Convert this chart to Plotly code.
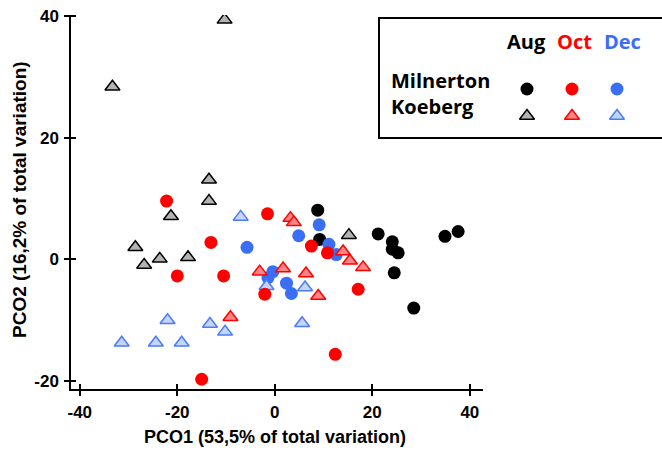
import plotly.graph_objects as go

# PCO scores per site and month
aug_milnerton_x = [8.8, 9.2, 21.2, 24.1, 24.1, 25.3, 24.5, 28.5, 34.9, 37.6]
aug_milnerton_y = [8.1, 3.3, 4.2, 2.9, 1.7, 1.1, -2.2, -8.0, 3.8, 4.6]

aug_koeberg_x = [-33.3, -10.3, -13.5, -13.5, -21.3, -28.6, -23.6, -26.8, -17.8, 15.2]
aug_koeberg_y = [28.4, 39.4, 13.1, 9.6, 7.1, 2.0, 0.1, -0.9, 0.35, 4.0]

oct_milnerton_x = [-22.2, -1.5, -13.1, -20.0, -10.5, -2.05, -15.0, 7.5, 10.8, 17.1, 12.4]
oct_milnerton_y = [9.6, 7.5, 2.8, -2.7, -2.7, -5.7, -19.7, 2.2, 1.1, -4.9, -15.6]

oct_koeberg_x = [-3.1, -9.1, 3.2, 3.9, 1.7, 6.4, 8.9, 14.0, 15.4, 18.1]
oct_koeberg_y = [-2.0, -9.5, 6.8, 6.1, -1.5, -2.3, -6.0, 1.3, -0.2, -1.3]

dec_milnerton_x = [-5.7, -0.4, -1.4, 2.4, 3.4, 4.9, 9.1, 11.1, 12.6]
dec_milnerton_y = [2.0, -2.0, -3.0, -3.9, -5.6, 3.9, 5.7, 2.5, 0.8]

dec_koeberg_x = [-7.0, -1.7, -22.0, -13.3, -10.2, -31.4, -24.4, -19.1, 6.2, 5.6]
dec_koeberg_y = [7.0, -4.4, -10.0, -10.6, -11.9, -13.7, -13.7, -13.7, -4.6, -10.5]

x_ticks = [-40, -20, 0, 20, 40]
x_tick_labels = ["-40", "-20", "0", "20", "40"]
y_ticks = [-20, 0, 20, 40]
y_tick_labels = ["-20", "0", "20", "40"]

months = ["Aug", "Oct", "Dec"]
sites = ["Milnerton", "Koeberg"]

x_title = "PCO1 (53,5% of total variation)"
y_title = "PCO2 (16,2% of total variation)"

BLACK = "#000000"
GREY = "#b3b3b3"
RED = "#ff0000"
RED_LIGHT = "#ff8585"
BLUE = "#3a6ef5"
BLUE_LIGHT = "#c6d4fa"
BLUE_EDGE = "#4a7cf7"

circle_style = {
    "Aug": dict(symbol="circle", size=13, color=BLACK, line=dict(width=0)),
    "Oct": dict(symbol="circle", size=13, color=RED, line=dict(width=0)),
    "Dec": dict(symbol="circle", size=13, color=BLUE, line=dict(width=0)),
}
triangle_style = {
    "Aug": dict(symbol="triangle-up", size=13, color=GREY, line=dict(width=1.5, color=BLACK)),
    "Oct": dict(symbol="triangle-up", size=13, color=RED_LIGHT, line=dict(width=1.5, color=RED)),
    "Dec": dict(symbol="triangle-up", size=13, color=BLUE_LIGHT, line=dict(width=1.5, color=BLUE_EDGE)),
}
month_colors = {"Aug": BLACK, "Oct": RED, "Dec": BLUE}

fig = go.Figure()

# drawing order keeps red marks on top of the blue and black ones
series = [
    (aug_milnerton_x, aug_milnerton_y, circle_style["Aug"]),
    (aug_koeberg_x, aug_koeberg_y, triangle_style["Aug"]),
    (dec_milnerton_x, dec_milnerton_y, circle_style["Dec"]),
    (dec_koeberg_x, dec_koeberg_y, triangle_style["Dec"]),
    (oct_milnerton_x, oct_milnerton_y, circle_style["Oct"]),
    (oct_koeberg_x, oct_koeberg_y, triangle_style["Oct"]),
]
for xs, ys, mk in series:
    fig.add_trace(go.Scatter(x=xs, y=ys, mode="markers", marker=mk,
                             showlegend=False, hoverinfo="skip",
                             xaxis="x", yaxis="y"))

# legend key grid: columns = months, rows = sites
for ci, m in enumerate(months):
    for ri, s in enumerate(sites):
        mk = circle_style[m] if s == "Milnerton" else triangle_style[m]
        fig.add_trace(go.Scatter(x=[ci], y=[ri], mode="markers", marker=mk,
                                 showlegend=False, hoverinfo="skip",
                                 xaxis="x3", yaxis="y3"))

# dummy trace so the overlay tick axes are rendered
fig.add_trace(go.Scatter(x=[None], y=[None], xaxis="x2", yaxis="y2",
                         showlegend=False, hoverinfo="skip"))

W, H = 662, 450
ML, MR, MT, MB = 71, 0, 15, 61
PW, PH = W - ML - MR, H - MT - MB
plot_right = 483
xdom_right = (plot_right - ML) / PW


def px(xp):
    return (xp - ML) / PW


def py(yp):
    return (H - MB - yp) / PH


FONT = "Liberation Sans, Arial, sans-serif"
tick_font = dict(family=FONT, size=17, color="black")

axis_common = dict(showgrid=False, zeroline=False, showline=True, linecolor="black",
                   linewidth=1.5, ticks="outside", ticklen=5, tickwidth=1.5,
                   tickcolor="black", tickfont=tick_font, ticklabelstandoff=2)

bold = lambda labels: ["<b>%s</b>" % t for t in labels]

fig.update_layout(
    width=W, height=H,
    margin=dict(l=ML, r=MR, t=MT, b=MB, autoexpand=False),
    paper_bgcolor="white", plot_bgcolor="white",
    xaxis=dict(domain=[0, xdom_right], range=[-41.8, 42.7], tickvals=x_ticks,
               ticktext=bold(x_tick_labels), **axis_common),
    yaxis=dict(domain=[0, 1], range=[-21.3, 40.2], tickvals=y_ticks,
               ticktext=bold(y_tick_labels), **axis_common),
    # inward half of the tick marks, so ticks cross the axis lines
    xaxis2=dict(overlaying="x", anchor="y", range=[-41.8, 42.7], tickvals=x_ticks,
                ticks="inside", ticklen=5, tickwidth=1.5, tickcolor="black",
                showticklabels=False, showgrid=False, zeroline=False, showline=False),
    yaxis2=dict(overlaying="y", anchor="x", range=[-21.3, 40.2], tickvals=y_ticks,
                ticks="inside", ticklen=5, tickwidth=1.5, tickcolor="black",
                showticklabels=False, showgrid=False, zeroline=False, showline=False),
    xaxis3=dict(domain=[px(504.5), px(639.5)], range=[-0.5, 2.5], anchor="y3",
                visible=False, fixedrange=True),
    yaxis3=dict(domain=[py(129.5), py(75.5)], range=[1.5, -0.5], anchor="x3",
                visible=False, fixedrange=True),
)

# axis titles
fig.add_annotation(text="<b>%s</b>" % x_title, xref="paper", yref="paper",
                   x=px(275), y=py(437), showarrow=False,
                   xanchor="center", yanchor="middle",
                   font=dict(family=FONT, size=18, color="black"))
fig.add_annotation(text="<b>%s</b>" % y_title, xref="paper", yref="paper",
                   x=px(19), y=py(200), showarrow=False, textangle=-90,
                   xanchor="center", yanchor="middle",
                   font=dict(family=FONT, size=19, color="black"))

# legend box
fig.add_shape(type="rect", xref="paper", yref="paper",
              x0=px(379), x1=px(672), y0=py(138), y1=py(18),
              line=dict(color="black", width=2), fillcolor="white", layer="below")

legend_font = dict(family="Open Sans, sans-serif", size=20)
header_x = [px(526.7), px(574.3), px(622.3)]
for m, hx in zip(months, header_x):
    fig.add_annotation(text="<b>%s</b>" % m, xref="paper", yref="paper", x=hx, y=py(41.7),
                       showarrow=False, xanchor="center", yanchor="middle",
                       font=dict(legend_font, color=month_colors[m]))
for s, sy in zip(sites, [py(80), py(106.7)]):
    fig.add_annotation(text="<b>%s</b>" % s, xref="paper", yref="paper", x=px(389), y=sy,
                       showarrow=False, xanchor="left", yanchor="middle",
                       font=dict(legend_font, color="black"))

fig.write_html("out.html")
